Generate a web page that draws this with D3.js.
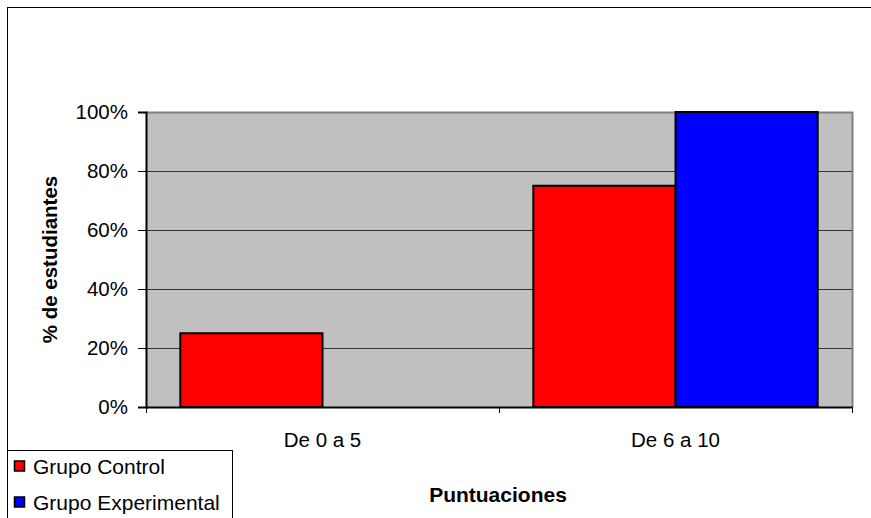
<!DOCTYPE html>
<html>
<head>
<meta charset="utf-8">
<script src="https://cdn.jsdelivr.net/npm/d3@7"></script>
<style>
  html, body { margin: 0; padding: 0; background: #fff; }
  svg { display: block; font-family: "Liberation Sans", Arial, sans-serif; }
</style>
</head>
<body>
<svg id="chart" width="871" height="518"></svg>
<script>
// Score ranges and share of students in each group
const categories = ["De 0 a 5", "De 6 a 10"];
const seriesNames = ["Grupo Control", "Grupo Experimental"];
const controlValues = [0.25, 0.75];
const experimentalValues = [0, 1.0];
const seriesColors = ["#FF0000", "#0000FF"];
const yTicks = [0, 0.2, 0.4, 0.6, 0.8, 1.0];

const FS = 20.5;
const svg = d3.select("#chart");
const W = 871, H = 518;

// Outer chart frame (continues past the right and bottom edges)
svg.append("rect")
  .attr("x", 7.5).attr("y", 7.5)
  .attr("width", W + 10).attr("height", H + 10)
  .attr("fill", "#fff").attr("stroke", "#000").attr("stroke-width", 1);

const plot = { left: 146, top: 112, right: 852, bottom: 407 };

const x = d3.scaleBand().domain(categories).range([plot.left, plot.right]);
const inner = d3.scaleBand().domain(seriesNames).range([0, x.bandwidth()]).paddingOuter(0.2414).paddingInner(0);
const y = d3.scaleLinear().domain([0, 1]).range([plot.bottom, plot.top]);

// Plot background
svg.append("rect")
  .attr("x", plot.left).attr("y", plot.top)
  .attr("width", plot.right - plot.left).attr("height", plot.bottom - plot.top)
  .attr("fill", "#C0C0C0");

// Gray top and right edges of the plot area
svg.append("path")
  .attr("d", `M${plot.left},${plot.top + 0.5}H${plot.right + 0.5}V${plot.bottom}`)
  .attr("fill", "none").attr("stroke", "#808080").attr("stroke-width", 2);

// Horizontal gridlines
svg.append("g").selectAll("line")
  .data(yTicks.filter(t => t > 0 && t < 1))
  .join("line")
  .attr("x1", plot.left).attr("x2", plot.right)
  .attr("y1", d => Math.round(y(d)) + 0.5).attr("y2", d => Math.round(y(d)) + 0.5)
  .attr("stroke", "#333").attr("stroke-width", 1);

// Bars
const seriesValues = [controlValues, experimentalValues];
const bars = [];
categories.forEach((c, ci) => {
  seriesNames.forEach((s, si) => {
    const v = seriesValues[si][ci];
    if (v > 0) bars.push({ c, s, v, color: seriesColors[si] });
  });
});
svg.append("g").selectAll("rect")
  .data(bars)
  .join("rect")
  .attr("x", d => x(d.c) + inner(d.s))
  .attr("y", d => y(d.v))
  .attr("width", inner.bandwidth())
  .attr("height", d => y(0) - y(d.v))
  .attr("fill", d => d.color)
  .attr("stroke", "#000").attr("stroke-width", 2);

// Y axis
const yAxis = d3.axisLeft(y).tickValues(yTicks).tickFormat(d3.format(".0%")).tickSize(8).tickPadding(10);
const gy = svg.append("g").attr("transform", `translate(${plot.left},0)`).call(yAxis);
gy.select(".domain").attr("stroke", "#000").attr("stroke-width", 2);
gy.selectAll(".tick line").attr("stroke", "#000");
gy.selectAll(".tick text").attr("font-size", FS).attr("fill", "#000")
  .attr("font-family", "'Liberation Sans', Arial, sans-serif");

// X axis: ticks at category boundaries
const gx = svg.append("g").attr("transform", `translate(0,${plot.bottom})`);
gx.append("line").attr("x1", plot.left).attr("x2", plot.right + 1)
  .attr("y1", 0.5).attr("y2", 0.5).attr("stroke", "#000").attr("stroke-width", 2);
const bounds = [plot.left, ...categories.map(c => x(c) + x.bandwidth())];
gx.selectAll("line.tk").data(bounds).join("line").attr("class", "tk")
  .attr("x1", d => d + 0.5).attr("x2", d => d + 0.5).attr("y1", 0).attr("y2", 6)
  .attr("stroke", "#000");
gx.selectAll("text").data(categories).join("text")
  .attr("x", d => x(d) + x.bandwidth() / 2)
  .attr("y", 40)
  .attr("text-anchor", "middle").attr("font-size", FS).attr("fill", "#000")
  .text(d => d);

// Axis titles
svg.append("text")
  .attr("transform", `translate(57,${(plot.top + plot.bottom) / 2}) rotate(-90)`)
  .attr("text-anchor", "middle").attr("font-size", FS).attr("font-weight", "bold")
  .text("% de estudiantes");
svg.append("text")
  .attr("x", 498).attr("y", 502)
  .attr("text-anchor", "middle").attr("font-size", 21).attr("font-weight", "bold")
  .text("Puntuaciones");

// Legend
const lg = svg.append("g");
lg.append("rect").attr("x", 7.5).attr("y", 450.5).attr("width", 225).attr("height", 80)
  .attr("fill", "#fff").attr("stroke", "#000");
seriesNames.forEach((s, i) => {
  const cy = 466.5 + i * 36;
  lg.append("rect").attr("x", 14.5).attr("y", cy - 5.5).attr("width", 10).attr("height", 10)
    .attr("fill", seriesColors[i]).attr("stroke", "#000").attr("stroke-width", 1.5);
  lg.append("text").attr("x", 33).attr("y", cy + 7.5)
    .attr("font-size", 21).attr("fill", "#000").text(s);
});
</script>
</body>
</html>
